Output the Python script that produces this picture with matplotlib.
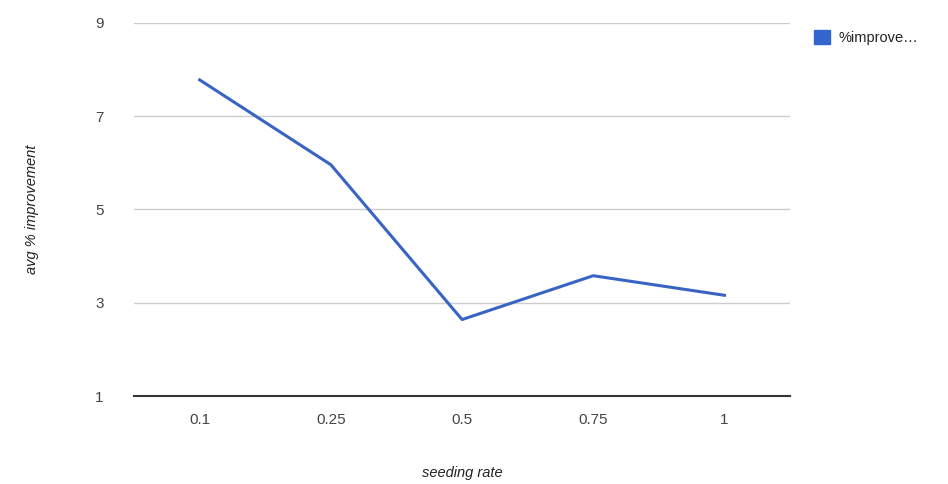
import matplotlib
matplotlib.use('Agg')
from matplotlib import pyplot as plt
from matplotlib.patches import Patch

plt.rcParams['font.family'] = ['Liberation Sans', 'DejaVu Sans']

seeding_rates = ['0.1', '0.25', '0.5', '0.75', '1']
improvement = [7.78, 5.96, 2.64, 3.58, 3.16]
y_ticks = [1, 3, 5, 7, 9]

fig = plt.figure(figsize=(9.48, 4.84), dpi=100)
ax = fig.add_axes([0.1414, 0.1818, 0.6920, 0.7707])

ax.plot(range(len(seeding_rates)), improvement, color='#3a64c4', linewidth=2.2)

ax.set_xlim(-0.5, len(seeding_rates) - 0.5)
ax.set_ylim(1, 9)
ax.set_xticks(range(len(seeding_rates)))
ax.set_xticklabels(seeding_rates)
ax.set_yticks(y_ticks)
ax.tick_params(length=0, labelsize=11, colors='#444444')
ax.tick_params(axis='x', pad=12)
ax.tick_params(axis='y', pad=22)

for v in y_ticks[1:]:
    ax.axhline(v, color='#cccccc', linewidth=1, zorder=0)

for s in ['top', 'right', 'left']:
    ax.spines[s].set_visible(False)
ax.spines['bottom'].set_color('#333333')
ax.spines['bottom'].set_linewidth(1.5)

ax.set_xlabel('seeding rate', fontstyle='italic', fontsize=10.5, color='#222222', labelpad=28)
ax.set_ylabel('avg % improvement', fontstyle='italic', fontsize=10.5, color='#222222', labelpad=40)

handle = Patch(color='#3366cc')
leg = fig.legend([handle], ['%improve\u2026'], loc='upper left', bbox_to_anchor=(0.845, 0.965),
                 frameon=False, fontsize=10.5, handlelength=1.1, handleheight=1.1, handletextpad=0.6)
for t in leg.get_texts():
    t.set_color('#222222')

fig.savefig('out.png', dpi=100)
